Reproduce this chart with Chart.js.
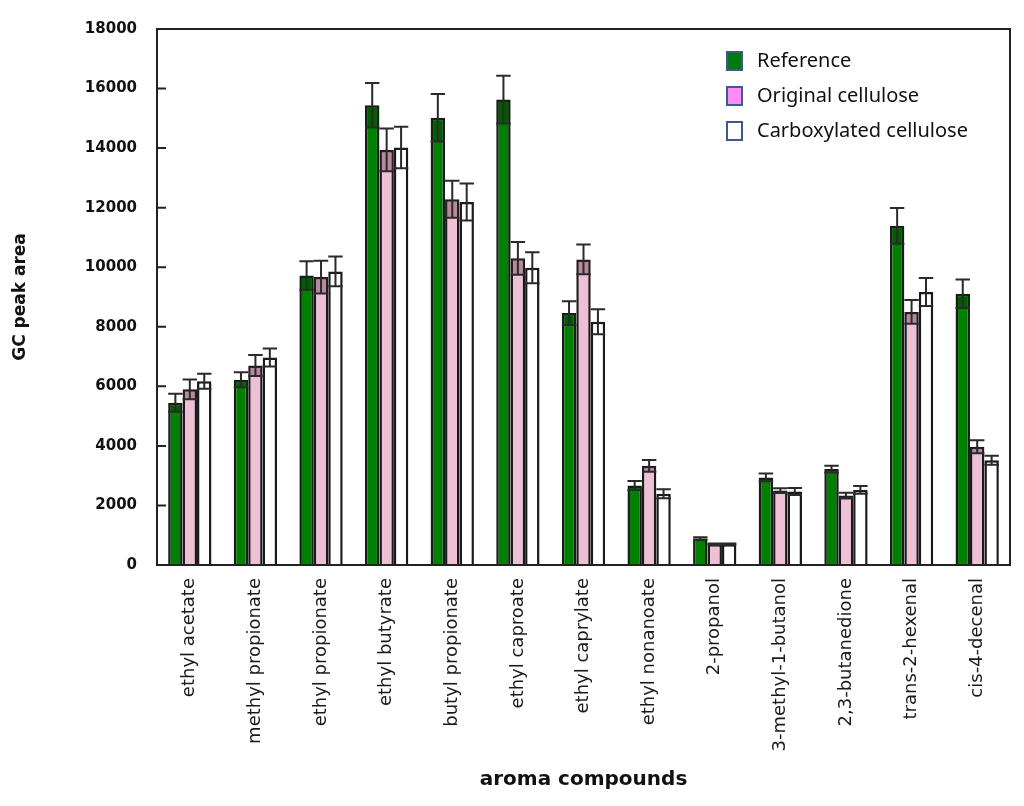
<!DOCTYPE html>
<html>
<head>
<meta charset="utf-8">
<script src="https://cdn.jsdelivr.net/npm/chart.js@4/dist/chart.umd.min.js"></script>
<style>
  html, body { margin: 0; padding: 0; background: #ffffff; }
  #wrap { width: 1024px; height: 806px; position: relative; }
</style>
</head>
<body>
<div id="wrap"><canvas id="c" width="1024" height="806"></canvas></div>
<script>
// ---------- data ----------
const categories = ["ethyl acetate", "methyl propionate", "ethyl propionate", "ethyl butyrate",
  "butyl propionate", "ethyl caproate", "ethyl caprylate", "ethyl nonanoate", "2-propanol",
  "3-methyl-1-butanol", "2,3-butanedione", "trans-2-hexenal", "cis-4-decenal"];
const seriesNames = ["Reference", "Original cellulose", "Carboxylated cellulose"];
const valReference     = [5450, 6220, 9720, 15440, 15020, 15630, 8460, 2670, 890, 2940, 3220, 11390, 9110];
const valOriginal      = [5900, 6700, 9670, 13940, 12280, 10300, 10260, 3330, 700, 2500, 2330, 8500, 3970];
const valCarboxylated  = [6170, 6970, 9860, 14020, 12190, 9980, 8170, 2390, 700, 2470, 2520, 9170, 3520];
const errReference     = [300, 250, 480, 750, 800, 800, 400, 150, 40, 130, 110, 600, 480];
const errOriginal      = [330, 350, 550, 720, 620, 550, 500, 200, 20, 80, 100, 400, 220];
const errCarboxylated  = [250, 300, 500, 700, 620, 520, 420, 150, 20, 120, 130, 470, 150];
const yTickValues = [0, 2000, 4000, 6000, 8000, 10000, 12000, 14000, 16000, 18000];

// ---------- plugin: error bars, frame, inward ticks, legend ----------
const decor = {
  id: 'decor',
  afterDatasetsDraw(chart) {
    const ctx = chart.ctx;
    const ys = chart.scales.y;
    const area = chart.chartArea;
    ctx.save();
    chart.data.datasets.forEach((ds, i) => {
      const meta = chart.getDatasetMeta(i);
      meta.data.forEach((bar, j) => {
        const v = ds.data[j], e = ds.errors[j];
        const x = bar.x, w = bar.width;
        const yv = ys.getPixelForValue(v);
        const yTop = ys.getPixelForValue(v + e);
        const yBot = ys.getPixelForValue(v - e);
        if (ds.bandColor) {
          ctx.fillStyle = ds.bandColor;
          ctx.fillRect(x - w / 2 + 1, yv + 1, w - 2, yBot - yv - 1);
        }
        ctx.strokeStyle = '#2a2a2a';
        ctx.lineWidth = 2;
        ctx.beginPath();
        ctx.moveTo(x, yTop); ctx.lineTo(x, yBot);
        ctx.moveTo(x - w / 2, yTop); ctx.lineTo(x + w / 2, yTop);
        ctx.moveTo(x - w / 2, yBot); ctx.lineTo(x + w / 2, yBot);
        ctx.stroke();
      });
    });
    // frame
    ctx.strokeStyle = '#222';
    ctx.lineWidth = 2;
    ctx.strokeRect(area.left, area.top, area.right - area.left, area.bottom - area.top);
    // inward ticks
    ctx.beginPath();
    yTickValues.forEach(v => {
      const py = ys.getPixelForValue(v);
      ctx.moveTo(area.left, py); ctx.lineTo(area.left + 9, py);
    });
    ctx.stroke();
    // legend
    const lx = 727, ly0 = 61, dy = 35;
    chart.data.datasets.forEach((ds, i) => {
      const cy = ly0 + i * dy;
      ctx.fillStyle = ds.legendColor;
      ctx.fillRect(lx, cy - 9, 15, 18);
      ctx.strokeStyle = '#3c5a8c';
      ctx.lineWidth = 2;
      ctx.strokeRect(lx, cy - 9, 15, 18);
      ctx.fillStyle = '#111';
      ctx.font = '20px "Noto Sans"';
      ctx.textAlign = 'left';
      ctx.textBaseline = 'middle';
      ctx.fillText(ds.label, 757, cy);
    });
    ctx.restore();
  }
};

new Chart(document.getElementById('c'), {
  type: 'bar',
  data: {
    labels: categories,
    datasets: [
      { label: seriesNames[0], data: valReference, errors: errReference,
        backgroundColor: '#008000', borderColor: '#1a1a1a', borderWidth: 2.5,
        bandColor: 'rgba(0,50,0,0.45)', legendColor: '#007a10' },
      { label: seriesNames[1], data: valOriginal, errors: errOriginal,
        backgroundColor: '#efbfd6', borderColor: '#1a1a1a', borderWidth: 2.5,
        bandColor: 'rgba(80,40,60,0.35)', legendColor: '#ff8cf5' },
      { label: seriesNames[2], data: valCarboxylated, errors: errCarboxylated,
        backgroundColor: '#ffffff', borderColor: '#1a1a1a', borderWidth: 2.5,
        bandColor: null, legendColor: '#ffffff' }
    ]
  },
  options: {
    responsive: false,
    animation: false,
    devicePixelRatio: 1,
    layout: { padding: { top: 25, right: 14, left: 0, bottom: 0 } },
    datasets: { bar: { categoryPercentage: 0.66, barPercentage: 1.0 } },
    plugins: { legend: { display: false }, tooltip: { enabled: false } },
    scales: {
      x: {
        grid: { display: false, drawTicks: false },
        border: { display: false },
        ticks: {
          autoSkip: false, minRotation: 90, maxRotation: 90, padding: 13,
          color: '#1a1a1a', font: { family: 'DejaVu Sans', size: 18 }
        },
        title: {
          display: true, text: 'aroma compounds', color: '#111',
          font: { family: 'DejaVu Sans', size: 20, weight: 'bold' },
          padding: { top: 0, bottom: 14 }
        },
        afterFit(s) { s.height = 806 - 565; }
      },
      y: {
        min: 0, max: 18000,
        grid: { display: false, drawTicks: false },
        border: { display: false },
        afterBuildTicks(s) { s.ticks = yTickValues.map(v => ({ value: v })); },
        ticks: {
          padding: 20, color: '#111',
          font: { family: 'DejaVu Sans', size: 15, weight: 'bold' },
          callback: v => String(v)
        },
        title: {
          display: true, text: 'GC peak area', color: '#111',
          font: { family: 'DejaVu Sans', size: 17, weight: 'bold' },
          padding: { top: 10, bottom: 0 }
        },
        afterFit(s) { s.width = 157; }
      }
    }
  },
  plugins: [decor]
});
</script>
</body>
</html>
